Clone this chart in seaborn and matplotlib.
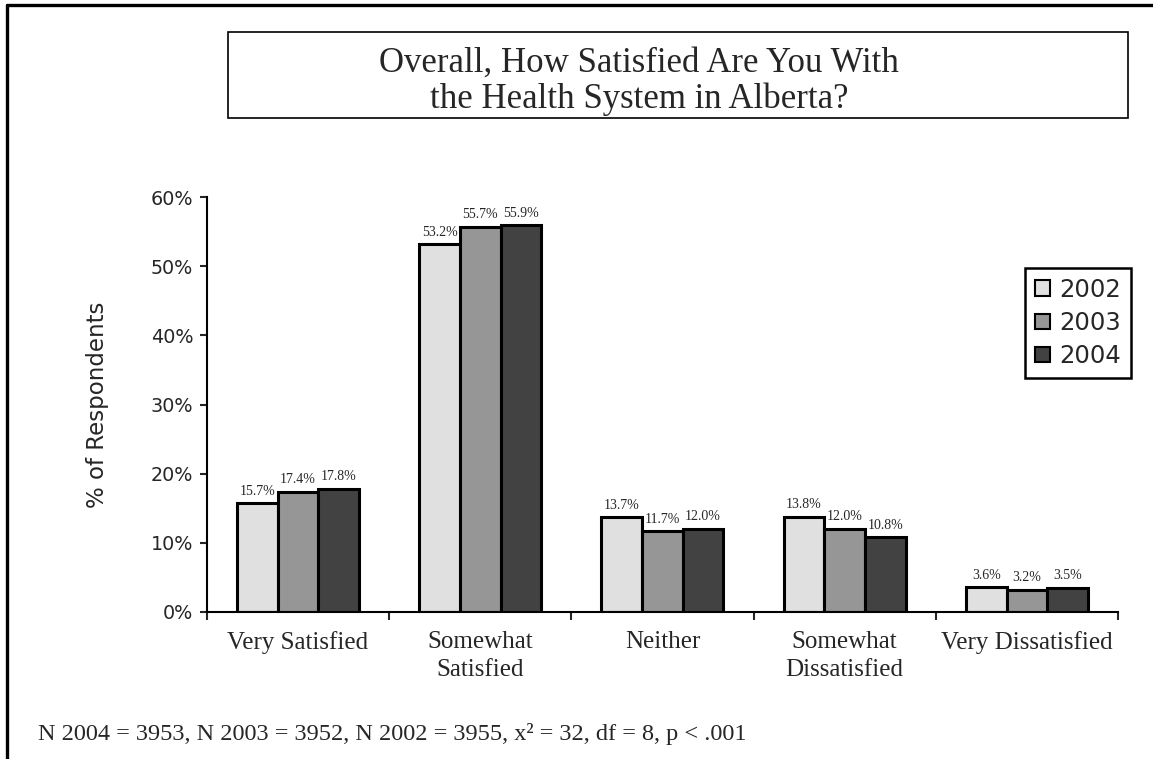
import numpy as np
import pandas as pd
import matplotlib
matplotlib.use("Agg")
import matplotlib.pyplot as plt
import seaborn as sns
from matplotlib.patches import Rectangle
from matplotlib.lines import Line2D

categories = ["Very Satisfied", "Somewhat\nSatisfied", "Neither",
              "Somewhat\nDissatisfied", "Very Dissatisfied"]
years = ["2002", "2003", "2004"]
v2002 = [15.7, 53.2, 13.7, 13.8, 3.6]
v2003 = [17.4, 55.7, 11.7, 12.0, 3.2]
v2004 = [17.8, 55.9, 12.0, 10.8, 3.5]
colors = ["#e0e0e0", "#969696", "#424242"]

df = pd.DataFrame({
    "cat": categories * 3,
    "year": [y for y in years for _ in categories],
    "pct": v2002 + v2003 + v2004,
})

sns.set_style("white")
serif = ["Liberation Serif", "DejaVu Serif"]
sans = ["DejaVu Sans"]

fig = plt.figure(figsize=(11.53, 7.59), dpi=100)
ax = fig.add_axes([0.1795, 0.1937, 0.7901, 0.5467])

sns.barplot(data=df, x="cat", y="pct", hue="year", order=categories,
            hue_order=years, palette=colors, width=0.67,
            edgecolor="black", linewidth=2.2, saturation=1, ax=ax)

for cont in ax.containers:
    ax.bar_label(cont, fmt="%.1f%%", padding=4, fontsize=10, family=serif)

ax.set_ylim(0, 60)
ax.set_xlim(-0.5, 4.5)
ax.set_yticks(np.arange(0, 61, 10))
ax.set_yticklabels([f"{t}%" for t in range(0, 61, 10)], fontsize=13.8, family=sans)
ax.set_xticks(range(5))
ax.set_xticklabels(categories, fontsize=18, family=serif, linespacing=1.3)
ax.set_xticks(np.arange(-0.5, 4.6, 1), minor=True)
ax.tick_params(axis="x", which="major", bottom=True, length=0, pad=14)
ax.tick_params(axis="x", which="minor", bottom=True, length=6, width=1.5, direction="out")
ax.tick_params(axis="y", left=True, length=5, width=1.5, direction="out", pad=5)
ax.set_xlabel("")
ax.set_ylabel("% of Respondents", fontsize=16.5, family=sans, labelpad=30)
for side in ["top", "right"]:
    ax.spines[side].set_visible(False)
for side in ["left", "bottom"]:
    ax.spines[side].set_linewidth(1.5)
    ax.spines[side].set_color("black")

leg = ax.legend(loc="upper right", bbox_to_anchor=(0.9809, 0.6469),
                bbox_transform=fig.transFigure, fancybox=False,
                edgecolor="black", framealpha=1, prop={"family": sans, "size": 17.5},
                handlelength=0.6, handleheight=0.6, handletextpad=0.4,
                borderpad=0.4, labelspacing=0.38, borderaxespad=0)
leg.get_frame().set_linewidth(1.8)
for h in leg.legend_handles:
    h.set_linewidth(1.5)

# title box
fig.patches.append(Rectangle((0.1977, 0.8445), 0.7806, 0.1133, transform=fig.transFigure,
                             fill=False, edgecolor="black", linewidth=1.2))
fig.text(0.554, 0.893, "Overall, How Satisfied Are You With\nthe Health System in Alberta?",
         ha="center", va="center", fontsize=25, family=serif, linespacing=1.1)

# outer frame (top and left only)
fig.add_artist(Line2D([0.006, 1.0], [0.9934, 0.9934], transform=fig.transFigure,
                      color="black", linewidth=2.4))
fig.add_artist(Line2D([0.006, 0.006], [0.0, 0.9934], transform=fig.transFigure,
                      color="black", linewidth=2.4))

fig.text(0.033, 0.025, "N 2004 = 3953, N 2003 = 3952, N 2002 = 3955, x\u00b2 = 32, df = 8, p < .001",
         ha="left", va="baseline", fontsize=17.5, family=serif)

fig.savefig("out.png", dpi=100)
